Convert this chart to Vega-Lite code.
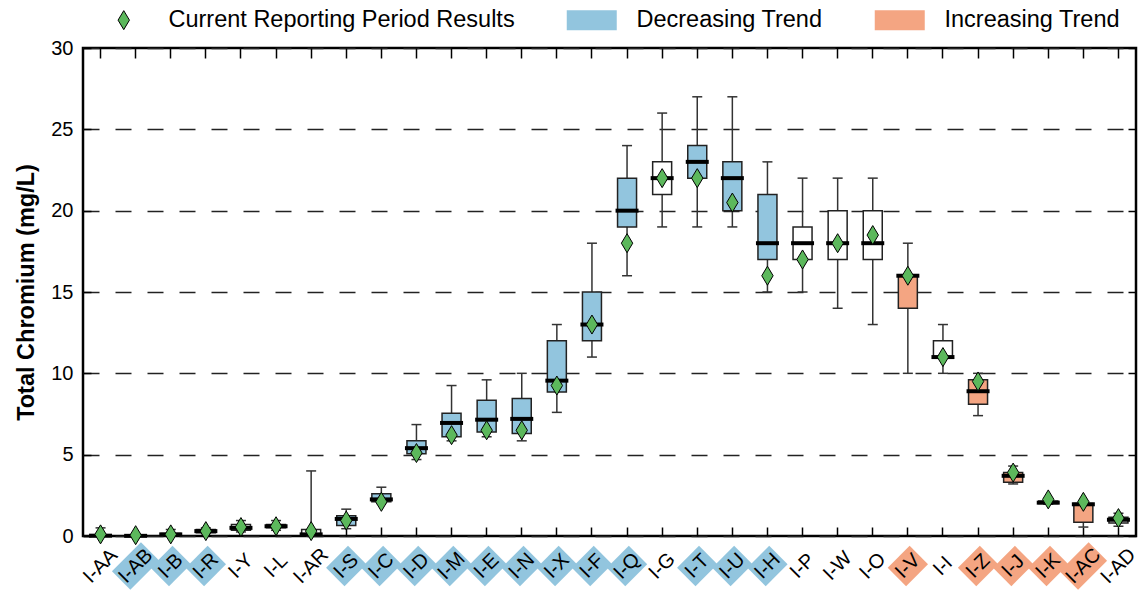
{
 "$schema": "https://vega.github.io/schema/vega-lite/v6.json",
 "width": 1053,
 "height": 488,
 "autosize": {"type": "none"},
 "padding": {"left": 83, "top": 48, "right": 4, "bottom": 58},
 "config": {
  "font": "Liberation Sans",
  "view": {"stroke": "black", "strokeWidth": 2.5},
  "axis": {"tickColor": "black", "tickWidth": 1.5, "domain": false, "labelColor": "black", "titleColor": "black"},
  "legend": {"orient": "none", "legendX": 14, "legendY": -40, "direction": "horizontal", "titleFontSize": 0,
             "padding": 0, "labelFontSize": 23.5, "labelLimit": 1000, "labelColor": "black",
             "symbolSize": 400, "labelOffset": 48, "columnPadding": 50}
 },
 "data": {"values": [
  {"site":"I-AA","trend":"None","lo":0,"q1":0,"med":0.02,"q3":0.05,"hi":0.5,"cur":0.1},
  {"site":"I-AB","trend":"Decreasing Trend","lo":0,"q1":0,"med":0.01,"q3":0.02,"hi":0.05,"cur":0.05},
  {"site":"I-B","trend":"Decreasing Trend","lo":0,"q1":0.05,"med":0.1,"q3":0.15,"hi":0.4,"cur":0.1},
  {"site":"I-R","trend":"Decreasing Trend","lo":0.15,"q1":0.2,"med":0.3,"q3":0.4,"hi":0.5,"cur":0.3},
  {"site":"I-Y","trend":"None","lo":0.25,"q1":0.35,"med":0.5,"q3":0.7,"hi":0.95,"cur":0.55},
  {"site":"I-L","trend":"None","lo":0.35,"q1":0.5,"med":0.6,"q3":0.7,"hi":0.95,"cur":0.6},
  {"site":"I-AR","trend":"None","lo":0,"q1":0.05,"med":0.1,"q3":0.4,"hi":4.0,"cur":0.3},
  {"site":"I-S","trend":"Decreasing Trend","lo":0.45,"q1":0.65,"med":1.05,"q3":1.25,"hi":1.65,"cur":0.95},
  {"site":"I-C","trend":"Decreasing Trend","lo":2.0,"q1":2.1,"med":2.25,"q3":2.6,"hi":3.0,"cur":2.1},
  {"site":"I-D","trend":"Decreasing Trend","lo":4.7,"q1":5.05,"med":5.4,"q3":5.85,"hi":6.85,"cur":5.1},
  {"site":"I-M","trend":"Decreasing Trend","lo":5.85,"q1":6.1,"med":6.95,"q3":7.55,"hi":9.25,"cur":6.2},
  {"site":"I-E","trend":"Decreasing Trend","lo":6.1,"q1":6.4,"med":7.15,"q3":8.35,"hi":9.6,"cur":6.5},
  {"site":"I-N","trend":"Decreasing Trend","lo":5.85,"q1":6.3,"med":7.2,"q3":8.45,"hi":10.0,"cur":6.5},
  {"site":"I-X","trend":"Decreasing Trend","lo":7.6,"q1":8.85,"med":9.55,"q3":12.0,"hi":13.0,"cur":9.25},
  {"site":"I-F","trend":"Decreasing Trend","lo":11,"q1":12,"med":13,"q3":15,"hi":18,"cur":13},
  {"site":"I-Q","trend":"Decreasing Trend","lo":16,"q1":19,"med":20,"q3":22,"hi":24,"cur":18},
  {"site":"I-G","trend":"None","lo":19,"q1":21,"med":22,"q3":23,"hi":26,"cur":22},
  {"site":"I-T","trend":"Decreasing Trend","lo":19,"q1":22,"med":23,"q3":24,"hi":27,"cur":22},
  {"site":"I-U","trend":"Decreasing Trend","lo":19,"q1":20,"med":22,"q3":23,"hi":27,"cur":20.5},
  {"site":"I-H","trend":"Decreasing Trend","lo":15,"q1":17,"med":18,"q3":21,"hi":23,"cur":16},
  {"site":"I-P","trend":"None","lo":15,"q1":17,"med":18,"q3":19,"hi":22,"cur":17},
  {"site":"I-W","trend":"None","lo":14,"q1":17,"med":18,"q3":20,"hi":22,"cur":18},
  {"site":"I-O","trend":"None","lo":13,"q1":17,"med":18,"q3":20,"hi":22,"cur":18.5},
  {"site":"I-V","trend":"Increasing Trend","lo":10,"q1":14,"med":16,"q3":16,"hi":18,"cur":16},
  {"site":"I-I","trend":"None","lo":10,"q1":11,"med":11,"q3":12,"hi":13,"cur":11},
  {"site":"I-Z","trend":"Increasing Trend","lo":7.4,"q1":8.1,"med":8.9,"q3":9.6,"hi":10,"cur":9.5},
  {"site":"I-J","trend":"Increasing Trend","lo":3.2,"q1":3.3,"med":3.7,"q3":3.9,"hi":4.3,"cur":3.9},
  {"site":"I-K","trend":"Increasing Trend","lo":1.95,"q1":2.0,"med":2.05,"q3":2.15,"hi":2.2,"cur":2.25},
  {"site":"I-AC","trend":"Increasing Trend","lo":0.55,"q1":0.85,"med":1.95,"q3":2.0,"hi":2.05,"cur":2.1},
  {"site":"I-AD","trend":"None","lo":0.6,"q1":0.8,"med":1.0,"q3":1.15,"hi":1.4,"cur":1.1}
 ]},
 "encoding": {
  "x": {"field": "site", "type": "nominal", "sort": null, "axis": null,
        "scale": {"paddingInner": 0, "paddingOuter": 0}}
 },
 "layer": [
  {
   "mark": {"type": "rule", "color": "#333333", "strokeWidth": 1.5},
   "encoding": {
    "x": {"field": "site", "type": "nominal", "sort": null,
          "scale": {"paddingInner": 0, "paddingOuter": 0},
          "axis": {"orient": "bottom", "labels": false, "title": null, "tickSize": -9, "grid": false}},
    "y": {"field": "lo", "type": "quantitative",
          "scale": {"domain": [0, 30], "nice": false, "zero": false},
          "axis": {"orient": "left", "values": [0,5,10,15,20,25,30], "format": "d", "tickSize": -8, "labelPadding": 18,
                   "labelFontSize": 20, "grid": true, "gridDash": [16, 16], "gridColor": "#222222", "gridWidth": 1.5, "gridOpacity": 1,
                   "title": "Total Chromium (mg/L)", "titleFontSize": 23.5, "titleFontWeight": "bold", "titlePadding": 12}},
    "y2": {"field": "hi"}
   }
  },
  {
   "mark": {"type": "tick", "color": "#333333", "opacity": 1, "size": 10, "thickness": 1.5},
   "encoding": {
    "x": {"field": "site", "type": "nominal", "sort": null,
          "scale": {"paddingInner": 0, "paddingOuter": 0},
          "axis": {"orient": "top", "labels": false, "title": null, "tickSize": -10, "grid": false}},
    "y": {"field": "lo", "type": "quantitative",
          "axis": {"orient": "right", "values": [0,5,10,15,20,25,30], "labels": false, "title": null, "tickSize": -8, "grid": false}}
   }
  },
  {
   "mark": {"type": "tick", "color": "#333333", "opacity": 1, "size": 10, "thickness": 1.5},
   "encoding": {"y": {"field": "hi", "type": "quantitative", "axis": null}}
  },
  {
   "transform": [{"filter": "datum.trend !== 'None'"}],
   "mark": {"type": "bar", "width": 19, "stroke": "#222222", "strokeWidth": 1.5},
   "encoding": {
    "y": {"field": "q1", "type": "quantitative", "axis": null},
    "y2": {"field": "q3"},
    "fill": {"field": "trend", "type": "nominal",
             "scale": {"domain": ["Current Reporting Period Results", "Decreasing Trend", "Increasing Trend"],
                       "range": ["#5cb85c", "#92c5de", "#f4a582"]},
             "legend": {"title": null,
                        "symbolType": {"expr": "datum.value === 'Current Reporting Period Results' ? 'M1.5,-0.95L2.07,0L1.5,0.95L0.93,0Z' : 'M-1,-1L4,-1L4,1L-1,1Z'"},
                        "symbolStrokeColor": "black",
                        "symbolStrokeWidth": {"expr": "datum.value === 'Current Reporting Period Results' ? 1 : 0"},
                        "symbolOpacity": 1}}
   }
  },
  {
   "transform": [{"filter": "datum.trend === 'None'"}],
   "mark": {"type": "bar", "width": 19, "fill": "white", "stroke": "#222222", "strokeWidth": 1.5},
   "encoding": {
    "y": {"field": "q1", "type": "quantitative", "axis": null},
    "y2": {"field": "q3"}
   }
  },
  {
   "mark": {"type": "tick", "color": "black", "opacity": 1, "size": 23, "thickness": 4},
   "encoding": {"y": {"field": "med", "type": "quantitative", "axis": null}}
  },
  {
   "mark": {"type": "point", "filled": true, "opacity": 1, "shape": "M0,-1L0.6,0L0,1L-0.6,0Z", "size": 361, "stroke": "black", "strokeWidth": 1},
   "encoding": {
    "y": {"field": "cur", "type": "quantitative", "axis": null},
    "fill": {"datum": "Current Reporting Period Results", "type": "nominal"}
   }
  },
  {
   "transform": [{"filter": "datum.trend !== 'None' && length(datum.site) <= 3"}],
   "mark": {"type": "point", "filled": true, "opacity": 1, "strokeWidth": 0, "angle": -45, "yOffset": 30,
            "shape": "M-1.55,-1.3L1.55,-1.3L1.55,1.3L-1.55,1.3Z", "size": 400},
   "encoding": {
    "y": {"datum": 0, "type": "quantitative", "axis": null},
    "fill": {"field": "trend", "type": "nominal"}
   }
  },
  {
   "transform": [{"filter": "datum.trend !== 'None' && length(datum.site) > 3"}],
   "mark": {"type": "point", "filled": true, "opacity": 1, "strokeWidth": 0, "angle": -45, "yOffset": 30,
            "shape": "M-2.05,-1.3L2.05,-1.3L2.05,1.3L-2.05,1.3Z", "size": 400},
   "encoding": {
    "y": {"datum": 0, "type": "quantitative", "axis": null},
    "fill": {"field": "trend", "type": "nominal"}
   }
  },
  {
   "mark": {"type": "text", "angle": -45, "yOffset": 30, "align": "center", "baseline": "middle", "fontSize": 20, "color": "black"},
   "encoding": {
    "y": {"datum": 0, "type": "quantitative", "axis": null},
    "text": {"field": "site"}
   }
  }
 ],
 "resolve": {"axis": {"x": "independent", "y": "independent"}}
}
